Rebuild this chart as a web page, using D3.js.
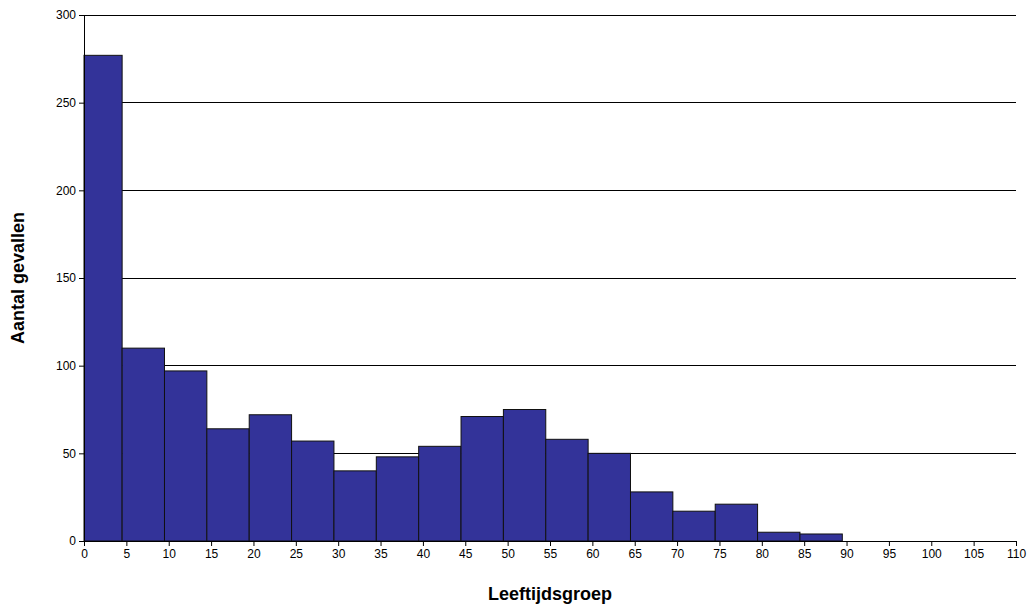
<!DOCTYPE html>
<html><head><meta charset="utf-8">
<script src="https://cdn.jsdelivr.net/npm/d3@7"></script>
<style>body{margin:0;background:#fff}text{font-family:"Liberation Sans",Arial,sans-serif}</style>
</head><body>
<svg id="svgx" width="1031" height="607"></svg>
<script>
// age group start (years), count per group
var groups=[0,5,10,15,20,25,30,35,40,45,50,55,60,65,70,75,80,85];
var counts=[277,110,97,64,72,57,40,48,54,71,75,58,50,28,17,21,5,4];
var xTicks=d3.range(0,111,5);
var yTicks=[0,50,100,150,200,250,300];

var margin={top:15,right:15,bottom:66,left:84};
var width=1031-margin.left-margin.right;
var height=607-margin.top-margin.bottom;

var svg=d3.select('#svgx');
var g=svg.append('g').attr('transform',`translate(${margin.left},${margin.top})`);

var x=d3.scaleLinear().domain([0,110]).range([0,width]);
var y=d3.scaleLinear().domain([0,300]).range([height,0]);

// gridlines
g.selectAll('.grid').data(yTicks.slice(1)).enter()
  .append('line').attr('class','grid')
  .attr('x1',0).attr('x2',width)
  .attr('y1',d=>y(d)).attr('y2',d=>y(d))
  .attr('stroke','#000').attr('stroke-width',1).attr('shape-rendering','crispEdges');

g.selectAll('.bar').data(groups).enter()
  .append('rect').attr('class','bar')
  .attr('x',d=>x(Math.max(0,d-0.5)))
  .attr('width',d=>x(d+4.5)-x(Math.max(0,d-0.5)))
  .attr('y',(d,i)=>y(counts[i]))
  .attr('height',(d,i)=>height-y(counts[i]))
  .attr('fill','#333399').attr('stroke','#111').attr('stroke-width',1);

var yAxis=g.append('g').call(d3.axisLeft(y).tickValues(yTicks).tickSize(5).tickSizeOuter(0));
var xAxis=g.append('g').attr('transform',`translate(0,${height})`)
  .call(d3.axisBottom(x).tickValues(xTicks).tickSize(5).tickSizeOuter(0));
[xAxis,yAxis].forEach(a=>{
  a.selectAll('text').style('font-size','12px').attr('fill','#000');
  a.selectAll('line,path').attr('stroke','#000');
});

svg.append('text').attr('x',margin.left+width/2).attr('y',600)
  .attr('text-anchor','middle').style('font-size','18px').style('font-weight','bold')
  .text('Leeftijdsgroep');
svg.append('text').attr('transform',`translate(24,${margin.top+height/2}) rotate(-90)`)
  .attr('text-anchor','middle').style('font-size','18px').style('font-weight','bold')
  .text('Aantal gevallen');
</script>
</body></html>
